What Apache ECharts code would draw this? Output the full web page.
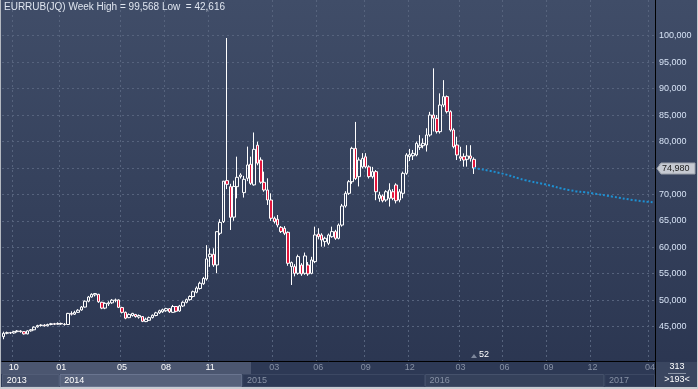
<!DOCTYPE html>
<html><head><meta charset="utf-8">
<script src="https://cdn.jsdelivr.net/npm/echarts@6.0.0/dist/echarts.min.js"></script>
<style>html,body{margin:0;padding:0;background:#2d3955;}#c{width:698px;height:389px;}</style>
</head><body><div id="c"></div>
<script>
// ---------------- data ----------------
const titleText = 'EURRUB(JQ) Week High = 99,568 Low  = 42,616';
const firstWeek = '2013-09-13';
const weekCount = 193;
const openV = [43100,43740,43860,43800,44050,44180,44050,43620,44200,44400,44950,45200,45300,45150,45400,45550,45450,45600,45450,45400,
47500,47350,47700,48150,48700,49800,50600,51000,51100,49600,48500,49300,49500,49950,50050,48600,47700,46700,47100,47300,
46800,46900,45950,46200,46700,47100,47600,47800,48000,48400,47700,48800,47950,48900,49600,50100,50700,51500,52200,53100,
54000,58200,58670,56650,62650,64850,72600,71460,65700,71460,73350,70330,73040,75700,71800,79300,76500,72280,70830,68940,
65480,65290,63770,63580,62830,56340,56340,55080,56650,55080,56650,55080,57290,62500,62330,61070,60750,62000,62960,61700,
64200,67800,70200,72400,78700,73350,75200,77100,75200,73350,74300,69260,69700,68940,69260,70500,71780,68940,70200,73980,
77130,77300,77450,78900,79200,79340,81230,85000,84380,81860,86900,88480,85640,82170,79340,77130,77130,76630,77260,76630];
const closeV = [43740,43860,43800,44050,44180,44050,43620,44200,44400,44900,45200,45300,45150,45400,45550,45450,45600,45500,45400,47500,
47350,47700,48100,48700,49800,50600,51100,51250,49700,48500,49400,49500,50000,50050,48650,47700,46600,47300,47500,46900,
47100,46000,46400,46700,47150,47600,48000,48200,48400,47800,48800,47900,48900,49600,50100,50700,51600,52300,53200,54100,
57800,58700,56650,62950,64700,72500,71900,65660,71500,73230,73670,72850,75560,72090,78520,75900,72300,70830,68940,65480,
64850,64210,62960,62640,56970,57100,55080,58230,54960,58360,54960,57600,62330,62000,61380,61700,62330,62960,61700,64200,
67800,70200,72400,78700,73000,76500,76800,75200,73350,74300,70500,69890,68800,70500,70830,69260,68800,70500,73980,77450,
77500,77760,79650,79300,79650,81230,85000,84400,81860,86900,88480,85640,82170,79020,77450,76820,76500,77260,76820,74980];
const lowV = [42616,43550,43600,43650,43900,43850,43500,43550,44050,44300,44800,45000,45000,45050,45250,45300,45350,45350,45200,45300,
47100,47200,47600,48000,48600,49600,50500,50700,49500,48300,48300,48900,49300,49600,48500,47500,46400,46600,46900,46700,
46500,45850,45850,46100,46550,46950,47400,47600,47800,47600,47600,47700,47800,48700,49400,49900,50500,51300,52000,52900,
53700,56300,56300,55100,62300,64600,71000,63270,65000,69260,73000,69400,72500,71800,71650,75500,72000,70500,68000,65000,
64500,63770,62700,62300,56500,52870,54500,54800,54600,54800,54600,54900,57000,61500,60120,60120,60400,61800,61400,61500,
63900,67500,69900,72000,72700,71500,74900,74900,73000,73000,68900,68600,68500,68600,67700,68900,68300,68500,69260,73700,
76300,76500,77200,78400,78700,78100,80900,81900,81500,81500,86500,85300,81860,78700,76500,76300,75240,75240,76200,73860];
const highV = [44050,44050,44000,44200,44350,44300,44150,44300,44550,45050,45350,45450,45450,45550,45700,45700,45800,45750,45650,47600,
47900,48000,48300,48900,49950,50800,51300,51350,51200,49700,49600,49800,50200,50300,50150,48750,47850,47500,47600,47400,
47300,47000,46700,46900,47300,47800,48200,48400,48550,48500,49100,48900,49100,49800,50300,50900,51800,52600,53500,54400,
60400,59800,59800,63000,65300,72550,99568,72000,72600,77130,74000,73500,79030,77130,81700,79970,77000,74300,73040,70200,
65800,66100,64000,64000,63000,57300,56800,58600,57000,59000,57200,58200,63900,63600,62650,62000,62600,63900,63300,64500,
68200,70600,72700,79000,83700,77000,77800,77800,75500,75200,74600,70500,70000,70800,72100,71000,72100,71000,74300,77800,
78600,78400,80000,81200,80600,82500,85600,93830,85000,89100,91600,88700,85900,82500,80900,79000,77760,79300,79300,77000];
const forecastIdx = [139,147,154,160,167,174,180,186,192];
const forecastVal = [74980,73990,72720,71900,70830,70200,69570,68940,68500];
const yTicks = [45000,50000,55000,60000,65000,70000,75000,80000,85000,90000,95000,100000];
const monthTickIdx = [3,17,35,48,61,80,93,107,120,135,148,161,174,191];
const monthTickLbl = ['10','01','05','08','11','03','06','09','12','03','06','09','12','04'];
const yearStartIdx = [0,17,71,125,178];
const yearLbl = ['2013','2014','2015','2016','2017'];
const lastPrice = 74980;
const totalBars = '313';
const visibleBars = '>193<';
const forecastLen = '52';

// ---------------- build ----------------
const FONT = '"Liberation Sans", Arial, sans-serif';
const weeks = [];
(function(){ const d0 = new Date(firstWeek + 'T00:00:00Z');
  for (let i = 0; i < weekCount; i++) weeks.push(new Date(d0.getTime() + i*7*86400000).toISOString().slice(0,10)); })();
const monthMap = new Map(monthTickIdx.map((i,k)=>[i, monthTickLbl[k]]));
const yearMap = new Map(yearStartIdx.map((i,k)=>[i, yearLbl[k]]));
const candles = openV.map((o,i)=>[o, closeV[i], lowV[i], highV[i]]);
const fmt = v => Number(v).toLocaleString('en-US');
const highlightEnd = 73.6; // range-selector overlay end (in week units)

const chart = echarts.init(document.getElementById('c'), null, {renderer:'canvas', width:698, height:389});
const option = {
  animation: false,
  backgroundColor: new echarts.graphic.LinearGradient(0,0,0,1,[{offset:0,color:'#404d68'},{offset:1,color:'#2a3550'}]),
  grid: {left: 2, right: 43, top: 0, bottom: 28},
  xAxis: [{
    type: 'category', data: weeks, boundaryGap: true,
    axisLine: {show: true, onZero: false, lineStyle: {color: '#000', width: 1}},
    axisTick: {show: false},
    axisLabel: {interval: (i)=>monthMap.has(i), formatter: (v)=>monthMap.get(weeks.indexOf(v)) || '',
      color: (v)=> weeks.indexOf(v) < highlightEnd ? '#ffffff' : '#8791a5',
      fontSize: 9, fontFamily: FONT, margin: 2},
    splitLine: {show: true, interval: (i)=>monthMap.has(i), lineStyle: {color: '#56637d', type: [2,3], width: 1}}
  },{
    type: 'category', data: weeks, boundaryGap: true, position: 'bottom', offset: 13,
    axisLine: {show: false}, axisTick: {show: false}, splitLine: {show: false},
    axisLabel: {interval: (i)=>yearMap.has(i), formatter: (v)=>yearMap.get(weeks.indexOf(v)) || '',
      color: (v)=> weeks.indexOf(v) < 70 ? '#ffffff' : '#8791a5',
      align: 'left', padding: [0,0,0,3], fontSize: 9, fontFamily: FONT, margin: 2}
  }],
  yAxis: {
    type: 'value', position: 'right', min: 38500, max: 106750, minInterval: 5000, maxInterval: 5000,
    splitLine: {show: false},
    axisLine: {show: true, lineStyle: {color: '#000', width: 1}},
    axisTick: {show: false},
    axisLabel: {formatter: (v)=> yTicks.includes(v) ? fmt(v) : '', color: '#d6e2f4', fontSize: 9, fontFamily: FONT, margin: 4}
  },
  series: [{
    type: 'candlestick', data: candles, barWidth: 3, z: 3,
    itemStyle: {color: 'rgba(0,0,0,0)', color0: '#e3163c', borderColor: '#ffffff', borderColor0: '#ffffff', borderWidth: 1},
    markLine: {
      z: 1, silent: true, symbol: ['none','none'], animation: false,
      data: yTicks.map(v=>({yAxis: v, lineStyle: {color: '#56637d', type: [2,3], width: 1}, label: {show: false}}))
    }
  },{
    type: 'line', data: forecastIdx.map((x,k)=>[x, forecastVal[k]]), smooth: true, symbol: 'none', z: 4,
    lineStyle: {color: '#1e90d2', width: 2, type: [2,2]}
  }]
};
chart.setOption(option);

// decorations computed from the axis scale
const c0 = chart.convertToPixel({xAxisIndex: 0}, 0);
const c1 = chart.convertToPixel({xAxisIndex: 0}, 1);
const band = c1 - c0;
const bx = i => c0 + (i - 0.5) * band;
const gridR = 655, gridB = 361;
const hx = bx(highlightEnd);
const yearFill = ['#47526c','#56617b','#2d3955','#35415b','#2d3955'];
const yearStroke = ['#525d77','#6a7590','#3c4863','#45516b','#3c4863'];
const els = [];
els.push({type:'rect', z:-1, shape:{x:0,y:gridB+1,width:gridR,height:26}, style:{fill:'#2d3955'}});
els.push({type:'rect', z:-1, shape:{x:0,y:gridB+1,width:hx,height:12}, style:{fill:'#4b5670'}});
yearStartIdx.forEach((s,k)=>{
  const x0 = Math.max(1, bx(s)); const x1 = k+1 < yearStartIdx.length ? bx(yearStartIdx[k+1]) : gridR;
  els.push({type:'rect', z:-1, shape:{x:x0+0.5,y:gridB+13.5,width:x1-x0-1,height:12}, style:{fill:yearFill[k], stroke:yearStroke[k], lineWidth:1}});
});
els.push({type:'rect', z:-1, shape:{x:gridR+1,y:gridB+1,width:42,height:27}, style:{fill:'#3a4660'}});
els.push({type:'line', z:5, shape:{x1:gridR+0.5,y1:gridB,x2:gridR+0.5,y2:389}, style:{stroke:'#000',lineWidth:1}});
els.push({type:'text', z:5, style:{x:677, y:367, text: totalBars, fill:'#ffffff', font:'9px '+FONT, align:'center', verticalAlign:'middle'}});
els.push({type:'line', z:5, shape:{x1:668,y1:373.5,x2:686,y2:373.5}, style:{stroke:'#8c96a8',lineWidth:1}});
els.push({type:'text', z:5, style:{x:677, y:380, text: visibleBars, fill:'#ffffff', font:'9px '+FONT, align:'center', verticalAlign:'middle'}});
const lastX = chart.convertToPixel({xAxisIndex: 0}, openV.length - 1);
els.push({type:'polygon', z:5, shape:{points:[[lastX-3,358],[lastX+3,358],[lastX,354]]}, style:{fill:'#7d879b'}});
els.push({type:'text', z:5, style:{x:lastX+10, y:355, text: forecastLen, fill:'#ffffff', font:'9px '+FONT, align:'center', verticalAlign:'middle'}});
// last price tag on the value axis
const py = Math.round(chart.convertToPixel({yAxisIndex: 0}, lastPrice)) + 0.5;
els.push({type:'polygon', z:6, shape:{points:[[gridR+2,py],[gridR+6,py-5.5],[695,py-5.5],[695,py+5.5],[gridR+6,py+5.5]]},
  style:{fill:'#c6cad2', stroke:'#9aa0aa', lineWidth:1}});
els.push({type:'text', z:7, style:{x:gridR+7, y:py+0.5, text: fmt(lastPrice), fill:'#1c1c1c', font:'9px '+FONT, align:'left', verticalAlign:'middle'}});
els.push({type:'text', z:5, style:{x:4, y:2, text: titleText, fill:'#dfe5ef', font:'10px '+FONT, align:'left', verticalAlign:'top'}});
els.push({type:'rect', z:6, shape:{x:0,y:0,width:1,height:389}, style:{fill:'#b4b9c1'}});
els.push({type:'rect', z:6, shape:{x:0,y:387,width:698,height:2}, style:{fill:'#c8ccd2'}});
els.push({type:'rect', z:6, shape:{x:697,y:0,width:1,height:389}, style:{fill:'#c8ccd2'}});
chart.setOption({graphic: {elements: els}});
</script></body></html>
